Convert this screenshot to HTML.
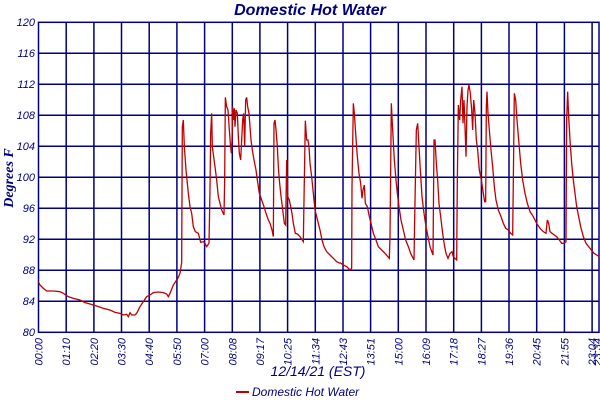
<!DOCTYPE html>
<html><head><meta charset="utf-8"><style>
body{margin:0;background:#fff;}
svg{display:block;font-family:"Liberation Sans",sans-serif;}
</style></head><body>
<svg width="600" height="400" xmlns="http://www.w3.org/2000/svg">
<rect width="600" height="400" fill="#fff"/>
<text x="310" y="15" text-anchor="middle" font-size="16" font-weight="bold" font-style="italic" fill="#000080">Domestic Hot Water</text>
<text transform="translate(13,178) rotate(-90)" text-anchor="middle" font-size="14" font-weight="bold" font-style="italic" fill="#000080" font-family="Liberation Serif">Degrees F</text>
<g stroke="#000080" stroke-width="1.5" fill="none">
<rect x="38.5" y="22.3" width="560.5" height="310"/>
<path d="M38.5 53.3H599M38.5 84.3H599M38.5 115.3H599M38.5 146.3H599M38.5 177.3H599M38.5 208.3H599M38.5 239.3H599M38.5 270.3H599M38.5 301.3H599"/>
<path d="M66.2 22V333M93.9 22V333M121.5 22V333M149.2 22V333M176.9 22V333M204.6 22V333M232.3 22V333M259.9 22V333M287.6 22V333M315.3 22V333M343 22V333M370.6 22V333M398.3 22V333M426 22V333M453.7 22V333M481.4 22V333M509 22V333M536.7 22V333M564.4 22V333M592.1 22V333"/>
</g>
<g font-size="11" font-style="italic" fill="#000080" text-anchor="end">
<text x="35" y="26">120</text><text x="35" y="57">116</text><text x="35" y="88">112</text><text x="35" y="119">108</text><text x="35" y="150">104</text><text x="35" y="181">100</text><text x="35" y="212">96</text><text x="35" y="243">92</text><text x="35" y="274">88</text><text x="35" y="305">84</text><text x="35" y="336">80</text>
</g>
<g font-size="11" font-style="italic" fill="#000080" text-anchor="end">
<text transform="translate(42.5,338) rotate(-90)">00:00</text>
<text transform="translate(70.2,338) rotate(-90)">01:10</text>
<text transform="translate(97.9,338) rotate(-90)">02:20</text>
<text transform="translate(125.5,338) rotate(-90)">03:30</text>
<text transform="translate(153.2,338) rotate(-90)">04:40</text>
<text transform="translate(180.9,338) rotate(-90)">05:50</text>
<text transform="translate(208.6,338) rotate(-90)">07:00</text>
<text transform="translate(236.3,338) rotate(-90)">08:08</text>
<text transform="translate(263.9,338) rotate(-90)">09:17</text>
<text transform="translate(291.6,338) rotate(-90)">10:25</text>
<text transform="translate(319.3,338) rotate(-90)">11:34</text>
<text transform="translate(347,338) rotate(-90)">12:43</text>
<text transform="translate(374.6,338) rotate(-90)">13:51</text>
<text transform="translate(402.3,338) rotate(-90)">15:00</text>
<text transform="translate(430,338) rotate(-90)">16:09</text>
<text transform="translate(457.7,338) rotate(-90)">17:18</text>
<text transform="translate(485.4,338) rotate(-90)">18:27</text>
<text transform="translate(513,338) rotate(-90)">19:36</text>
<text transform="translate(540.7,338) rotate(-90)">20:45</text>
<text transform="translate(568.4,338) rotate(-90)">21:55</text>
<text transform="translate(596.1,338) rotate(-90)">23:04</text>
<text transform="translate(601,338) rotate(-90)">23:34</text>
</g>
<text x="318" y="376" text-anchor="middle" font-size="14" font-style="italic" fill="#000080">12/14/21 (EST)</text>
<line x1="236" y1="392" x2="249" y2="392" stroke="#c00000" stroke-width="2"/>
<text x="252" y="396" font-size="12" font-style="italic" fill="#000080">Domestic Hot Water</text>
<g fill="none" stroke="#c00000" stroke-width="1.3">
<g transform="translate(0,280) scale(0.33333)"><polyline vector-effect="non-scaling-stroke" points="115,5 120,15 130,25 140,33 160,33 180,35 190,40 197,45 205,50 220,55 240,60 255,68 270,72 290,78 310,85 330,90 345,97 360,100 370,105 380,103 385,110 390,98 395,105 405,105 410,100 420,80 430,65 440,50 450,45 460,38 475,36 490,38 500,42 505,50 510,40 520,15 530,0"/></g>
<g transform="translate(150,80) scale(0.33333)"><polyline vector-effect="non-scaling-stroke" points="82,598 90,580 95,548 97,140 100,120 103,200 108,270 112,310 115,340 120,380 125,400 130,440 136,455 145,460 152,487 160,485 165,490 170,500 177,490 180,330 182,160 185,100 187,200 191,230 195,260 200,300 205,350 210,370 215,390 222,405 224,300 226,52 230,80 234,90 238,150 241,190 244,220 246,180 248,80 250,120 253,85 255,140 258,90 262,100 265,170 268,220 272,240 275,180 278,120 281,100 284,200 287,60 290,52 293,80 297,100 300,140 303,180 307,210 312,240 318,270 322,300 328,340 335,360 342,380 348,400 355,420 360,430 366,450 370,470 372,130 375,120 378,150 382,200 385,260 388,300 392,340 397,380 403,430 407,435 410,240 413,350 418,360 422,380 426,400 430,430 436,460 442,462 450,470 460,485 462,360 466,122 470,180 474,180 477,200 480,250 485,290 490,340 495,390 500,410 505,430 510,450 516,480 522,500 530,515 540,525 550,535 560,545 570,550"/></g>
<g transform="translate(340,80) scale(0.33333)"><polyline vector-effect="non-scaling-stroke" points="0,548 10,555 20,560 30,570 35,565 36,320 40,70 43,100 47,160 52,230 57,280 62,310 66,355 69,330 73,315 76,370 82,380 88,410 93,430 100,460 108,480 115,500 125,510 135,520 148,535 150,470 154,70 158,150 163,240 168,300 172,340 177,380 183,420 190,450 197,480 205,500 212,520 222,540 224,420 229,150 233,130 237,200 241,270 246,350 252,400 258,440 264,470 270,500 279,525 282,180 285,180 289,250 293,300 297,370 302,410 308,460 314,500 318,520 324,535 330,520 336,515 340,530 350,540 352,300 355,75 359,120 362,60 366,20 369,130 372,60 375,140 378,230 381,80 384,30 387,15 391,40 395,90 398,150 401,60 405,100 409,180 413,210 418,270 424,300 430,340 434,365 437,365 439,80 441,35 444,100 448,150 453,210 458,260 463,320 468,360 475,390 483,410 490,430 497,445 505,450 512,460 518,465 520,300 523,40 527,60 531,120 536,180 542,250 548,300 555,340 562,370 570,395 580,410 590,430 600,445 610,455 618,460 622,420 626,430 630,455 636,460 643,465 650,470 658,480 665,490 672,490 678,485 680,120 683,35 686,110 690,180 695,250 700,300 705,340 710,380 716,410 722,440 730,470 738,490 746,500 754,510 762,520 770,525 778,530"/></g>
</g>
</svg>
</body></html>
